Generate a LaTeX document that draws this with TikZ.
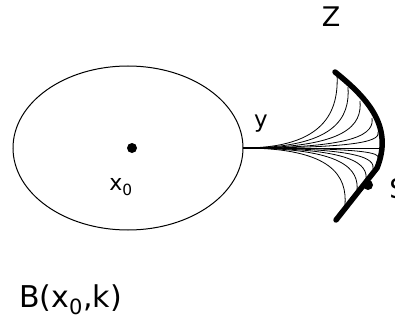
\documentclass[tikz,border=0pt]{standalone}
\usepackage{fontspec}
\setmainfont{DejaVu Sans}
\begin{document}
\begin{tikzpicture}[x=1pt,y=-1pt,
  lbl/.style={inner sep=0pt,font=\fontsize{27}{30}\selectfont},
  fan/.style={line width=0.8pt},
  rim/.style={line width=5.5pt,line cap=round},
  pt/.style={circle,fill=black,inner sep=0pt,minimum size=10pt}]
\useasboundingbox (0,0) rectangle (395,326);
\draw[line width=1pt] (128,148) ellipse (115 and 82);
\node[pt] (x0) at (132,148) {};
\node[lbl,font=\fontsize{22}{24}\selectfont] (x0l) at (121,187) {x$_{\mathrm{0}}$};
\coordinate (hub) at (243,148);
\node[lbl,font=\fontsize{23}{26}\selectfont] (yl) at (261,124) {y};
\node[lbl] (zl) at (331,17) {Z};
\node[lbl,font=\fontsize{30}{34}\selectfont,anchor=west] (bl) at (19,300) {B(x$_{\mathrm{0}}$,k)};
% fan curves
\foreach \ex/\ey in {337/74, 348/87, 360/101, 372/118, 378/132, 378/158, 373/169, 366/180, 357/191, 345/205}{
  \draw[fan] (hub) .. controls ({\ex-12},148) and ({\ex+2},{\ey+0.5*(148-\ey)}) .. (\ex,\ey);
}
\draw[fan] (hub) -- (380,148);
% rim
\draw[rim] (335,72) .. controls (370,100) and (393,128) .. (377,168) -- (336,220);
\node[pt] (s) at (368,185) {};
\node[lbl] (sl) at (398,189) {S};
\end{tikzpicture}
\end{document}
